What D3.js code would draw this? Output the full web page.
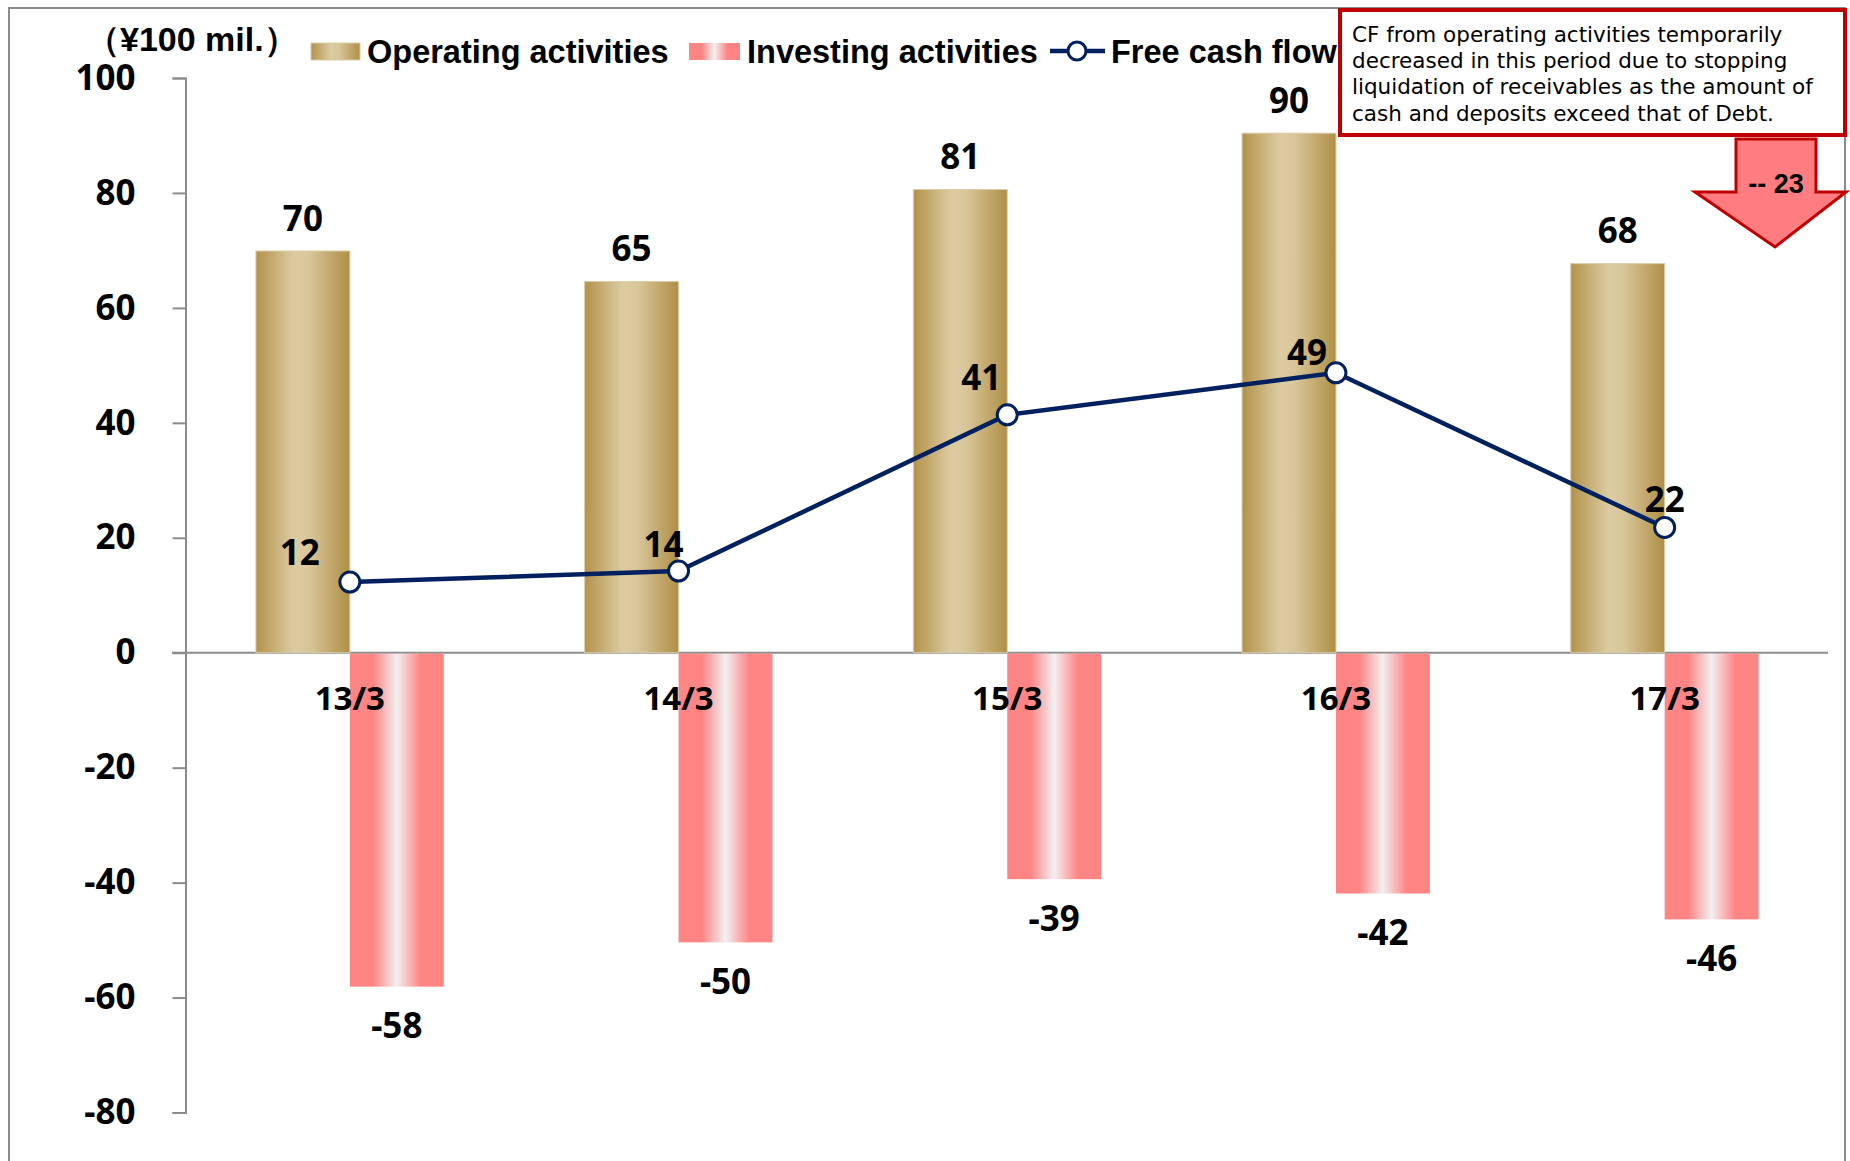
<!DOCTYPE html>
<html>
<head>
<meta charset="utf-8">
<script src="https://cdn.jsdelivr.net/npm/d3@7"></script>
<style>
	body { margin: 0; background: #fff; }
	svg { display: block; }
	.num { font-family: "Noto Sans", sans-serif; font-weight: 700; fill: #000; }
	.leg { font-family: "Liberation Sans Narrow", "Liberation Sans", sans-serif; font-weight: 700; fill: #000; }
</style>
</head>
<body>
<div id="chart"></div>
<script>
// fiscal year ends
const periods = ['13/3', '14/3', '15/3', '16/3', '17/3']
// ¥100 mil.
const operating = [69.9, 64.6, 80.6, 90.4, 67.7]
const investing = [-58.1, -50.4, -39.4, -41.9, -46.4]
const freeCashFlow = [12.3, 14.2, 41.4, 48.7, 21.8]
const yTicks = [-80, -60, -40, -20, 0, 20, 40, 60, 80, 100]

const legendLabels = ['Operating activities', 'Investing activities', 'Free cash flow']
const unitLabel = '（¥100 mil.）'
const noteLines = [
	'CF from operating activities temporarily',
	'decreased in this period due to stopping',
	'liquidation of receivables as the amount of',
	'cash and deposits exceed that of Debt.'
]
const arrowLabel = '-- 23'

// fcf label nudges (px), label positions were hand placed in the original
const fcfLabelOffset = [[-50, -30], [-15, -27], [-26, -37], [-29, -20], [0, -28]]

const W = 1850, H = 1161

const svg = d3.select('#chart').append('svg')
	.attr('width', W)
	.attr('height', H)

const defs = svg.append('defs')

// gold cylinder look
const gold = defs.append('linearGradient').attr('id', 'gold')
	.attr('x1', 0).attr('x2', 1).attr('y1', 0).attr('y2', 0)
;[[0, '#b3924b'], [0.4, '#dccba1'], [0.55, '#d9c79c'], [1, '#b08f47']].forEach(s => {
	gold.append('stop').attr('offset', s[0]).attr('stop-color', s[1])
})
const pink = defs.append('linearGradient').attr('id', 'pink')
	.attr('x1', 0).attr('x2', 1).attr('y1', 0).attr('y2', 0)
;[[0, '#ff8585'], [0.25, '#ff8585'], [0.5, '#f2f0f0'], [0.75, '#ff8585'], [1, '#ff8585']].forEach(s => {
	pink.append('stop').attr('offset', s[0]).attr('stop-color', s[1])
})

// outer chart frame
svg.append('rect')
	.attr('x', 9).attr('y', 8)
	.attr('width', 1836).attr('height', H + 20)
	.attr('fill', 'none')
	.attr('stroke', '#8c8c8c')
	.attr('stroke-width', 2)

/*----------------- scales -----------------*/
const x = d3.scaleBand()
	.domain(periods)
	.range([185.5, 1829])
	.padding(0)

// gap width 150% -> two bars + 1.5 bar of gap per category
const barW = x.bandwidth() / 3.5
const cx = d => x(d) + x.bandwidth() / 2

const y = d3.scaleLinear()
	.domain([-80, 100])
	.range([1112.5, 78])

/*----------------- axes -----------------*/
const yAxis = svg.append('g')
	.attr('transform', 'translate(185.5,0)')
	.call(d3.axisLeft(y)
		.tickValues(yTicks)
		.tickSize(13)
		.tickPadding(37)
		.tickFormat(d => String(d)))
yAxis.select('.domain').attr('stroke', '#8c8c8c').attr('stroke-width', 2)
yAxis.selectAll('.tick line').attr('stroke', '#8c8c8c').attr('stroke-width', 2)
yAxis.selectAll('.tick text')
	.attr('class', 'num')
	.style('font-size', '35px')
	.attr('fill', '#000')

// zero line
svg.append('line')
	.attr('x1', 172).attr('x2', 1828)
	.attr('y1', y(0)).attr('y2', y(0))
	.attr('stroke', '#8c8c8c')
	.attr('stroke-width', 2)

/*----------------- bars -----------------*/
svg.selectAll('.op')
	.data(periods)
	.join('rect')
	.attr('class', 'op')
	.attr('x', d => cx(d) - barW)
	.attr('width', barW)
	.attr('y', (d, i) => y(operating[i]))
	.attr('height', (d, i) => y(0) - y(operating[i]))
	.attr('fill', 'url(#gold)')
	.attr('stroke', '#dacda9')
	.attr('stroke-width', 1)

svg.selectAll('.inv')
	.data(periods)
	.join('rect')
	.attr('class', 'inv')
	.attr('x', d => cx(d))
	.attr('width', barW)
	.attr('y', y(0) + 1)
	.attr('height', (d, i) => y(investing[i]) - y(0) - 1)
	.attr('fill', 'url(#pink)')

// bar value labels
svg.selectAll('.opLabel')
	.data(periods)
	.join('text')
	.attr('class', 'num')
	.attr('x', d => cx(d) - barW / 2)
	.attr('y', (d, i) => y(operating[i]) - 33)
	.attr('dy', '0.36em')
	.attr('text-anchor', 'middle')
	.style('font-size', '35px')
	.text((d, i) => Math.round(operating[i]))

svg.selectAll('.invLabel')
	.data(periods)
	.join('text')
	.attr('class', 'num')
	.attr('x', d => cx(d) + barW / 2)
	.attr('y', (d, i) => y(investing[i]) + 39)
	.attr('dy', '0.36em')
	.attr('text-anchor', 'middle')
	.style('font-size', '35px')
	.text((d, i) => String(Math.round(investing[i])))

// category labels sit over the pink bars
svg.selectAll('.cat')
	.data(periods)
	.join('text')
	.attr('class', 'num')
	.attr('x', d => cx(d))
	.attr('y', y(0) + 45)
	.attr('dy', '0.36em')
	.attr('text-anchor', 'middle')
	.style('font-size', '33px')
	.text(d => d)

/*----------------- free cash flow line -----------------*/
const line = d3.line()
	.x((d, i) => cx(periods[i]))
	.y(d => y(d))

svg.append('path')
	.datum(freeCashFlow)
	.attr('d', line)
	.attr('fill', 'none')
	.attr('stroke', '#002060')
	.attr('stroke-width', 4.5)

svg.selectAll('.fcf')
	.data(freeCashFlow)
	.join('circle')
	.attr('cx', (d, i) => cx(periods[i]))
	.attr('cy', d => y(d))
	.attr('r', 10)
	.attr('fill', '#fff')
	.attr('stroke', '#002060')
	.attr('stroke-width', 3)

svg.selectAll('.fcfLabel')
	.data(freeCashFlow)
	.join('text')
	.attr('class', 'num')
	.attr('x', (d, i) => cx(periods[i]) + fcfLabelOffset[i][0])
	.attr('y', (d, i) => y(d) + fcfLabelOffset[i][1])
	.attr('dy', '0.36em')
	.attr('text-anchor', 'middle')
	.style('font-size', '35px')
	.text(d => Math.round(d))

/*----------------- legend -----------------*/
svg.append('text')
	.attr('class', 'leg')
	.attr('x', 86).attr('y', 39)
	.attr('dy', '0.36em')
	.style('font-size', '34px')
	.text(unitLabel)

const legend = svg.append('g')
legend.append('rect')
	.attr('x', 311).attr('y', 43).attr('width', 49).attr('height', 17)
	.attr('fill', 'url(#gold)').attr('stroke', '#dacda9')
legend.append('rect')
	.attr('x', 689).attr('y', 43).attr('width', 51).attr('height', 17)
	.attr('fill', 'url(#pink)')
legend.append('line')
	.attr('x1', 1050).attr('x2', 1105).attr('y1', 51).attr('y2', 51)
	.attr('stroke', '#002060').attr('stroke-width', 4.5)
legend.append('circle')
	.attr('cx', 1077).attr('cy', 51).attr('r', 9)
	.attr('fill', '#fff').attr('stroke', '#002060').attr('stroke-width', 3)

legend.selectAll('.legText')
	.data(legendLabels)
	.join('text')
	.attr('class', 'leg')
	.attr('x', (d, i) => [367, 747, 1111][i])
	.attr('y', 51)
	.attr('dy', '0.36em')
	.style('font-size', '32.5px')
	.text(d => d)

/*----------------- note + arrow -----------------*/
svg.append('rect')
	.attr('x', 1340).attr('y', 10)
	.attr('width', 505).attr('height', 125)
	.attr('fill', '#fff')
	.attr('stroke', '#c00000')
	.attr('stroke-width', 4)

svg.selectAll('.note')
	.data(noteLines)
	.join('text')
	.attr('x', 1352)
	.attr('y', (d, i) => 34 + i * 26.3)
	.attr('dy', '0.36em')
	.style('font-family', '"DejaVu Sans", sans-serif')
	.style('font-size', '21.5px')
	.attr('fill', '#000')
	.text(d => d)

svg.append('path')
	.attr('d', 'M1736,139 L1816,139 L1816,192 L1846,192 L1775,247 L1695,192 L1736,192 Z')
	.attr('fill', '#ff7c80')
	.attr('stroke', '#c00000')
	.attr('stroke-width', 3)
	.attr('stroke-linejoin', 'miter')

svg.append('text')
	.attr('x', 1776).attr('y', 183)
	.attr('dy', '0.36em')
	.attr('text-anchor', 'middle')
	.style('font-family', '"Liberation Sans", Arial, sans-serif')
	.style('font-weight', 700)
	.style('font-size', '27px')
	.attr('fill', '#000')
	.text(arrowLabel)
</script>
</body>
</html>
